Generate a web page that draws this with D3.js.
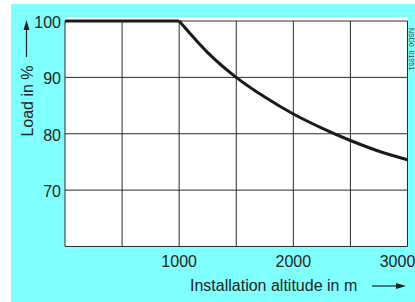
<!DOCTYPE html>
<html>
<head>
<meta charset="utf-8">
<script src="https://d3js.org/d3.v7.min.js"></script>
<style>
    body { margin: 0; background: #fff; }
    svg text { font-family: "Liberation Sans", Arial, sans-serif; fill: #222; }
</style>
</head>
<body>
<svg width="415" height="302"></svg>
<script>
    // curve
    let altitudes = [1000, 1250, 1500, 1750, 2000, 2250, 2500, 2750, 3000]
    let loads = [100, 94.4, 90, 86.5, 83.5, 81, 78.8, 76.9, 75.4]
    let flatAltitudes = [0, 1000]
    let flatLoads = [100, 100]

    let xGrid = [0, 500, 1000, 1500, 2000, 2500, 3000]
    let yGrid = [60, 70, 80, 90, 100]
    let xLabels = [1000, 2000, 3000]
    let yLabels = [70, 80, 90, 100]

    let svg = d3.select('svg')
    let x = d3.scaleLinear().domain([0, 3000]).range([65, 407.5])
    let y = d3.scaleLinear().domain([60, 100]).range([246.5, 21])

    // background
    svg.append('rect').attr('x', 11).attr('y', 4).attr('width', 404).attr('height', 298).attr('fill', '#80ffff')
    svg.append('rect').attr('x', x(0)).attr('y', 17).attr('width', x(3000) - x(0)).attr('height', y(60) - 17).attr('fill', '#fff')

    // grid
    svg.selectAll('.vg').data(xGrid).enter().append('line')
        .attr('x1', d => x(d)).attr('x2', d => x(d))
        .attr('y1', y(100)).attr('y2', y(60))
        .attr('stroke', '#2a2a2a').attr('stroke-width', 1)
    svg.selectAll('.hg').data(yGrid).enter().append('line')
        .attr('x1', x(0)).attr('x2', x(3000))
        .attr('y1', d => y(d)).attr('y2', d => y(d))
        .attr('stroke', '#2a2a2a').attr('stroke-width', 1)

    // curve
    let line = d3.line().x(d => x(d[0])).y(d => y(d[1]))
    svg.append('path')
        .attr('d', line(flatAltitudes.map((a, i) => [a, flatLoads[i]])))
        .attr('fill', 'none').attr('stroke', '#1a1a1a').attr('stroke-width', 3)
    svg.append('path')
        .attr('d', line.curve(d3.curveMonotoneX)(altitudes.map((a, i) => [a, loads[i]])))
        .attr('fill', 'none').attr('stroke', '#1a1a1a').attr('stroke-width', 3)

    // axes labels
    svg.selectAll('.yl').data(yLabels).enter().append('text')
        .attr('x', 61).attr('y', d => y(d) + 7)
        .attr('text-anchor', 'end').attr('font-size', 16)
        .text(d => d)
    svg.selectAll('.xl').data(xLabels).enter().append('text')
        .attr('x', d => x(d) - (d === 3000 ? 10 : 0)).attr('y', 267)
        .attr('text-anchor', 'middle').attr('font-size', 16)
        .text(d => d)

    svg.append('text')
        .attr('x', 190).attr('y', 291).attr('font-size', 16)
        .text('Installation altitude in m')
    svg.append('text')
        .attr('transform', 'translate(33,101) rotate(-90)')
        .attr('text-anchor', 'middle').attr('font-size', 16)
        .text('Load in %')

    // arrows
    svg.append('line').attr('x1', 372).attr('x2', 398).attr('y1', 286).attr('y2', 286).attr('stroke', '#222').attr('stroke-width', 1.2)
    svg.append('path').attr('d', 'M406,286 L396,283 L396,289 Z').attr('fill', '#222')
    svg.append('line').attr('x1', 26.5).attr('x2', 26.5).attr('y1', 57).attr('y2', 29).attr('stroke', '#222').attr('stroke-width', 1.2)
    svg.append('path').attr('d', 'M26.5,20 L23.5,30 L29.5,30 Z').attr('fill', '#222')

    // figure id at the right edge
    svg.append('text')
        .attr('transform', 'translate(409,28) rotate(90)')
        .attr('font-size', 7).style('fill', '#444')
        .text('NSD0_01951')
</script>
</body>
</html>
